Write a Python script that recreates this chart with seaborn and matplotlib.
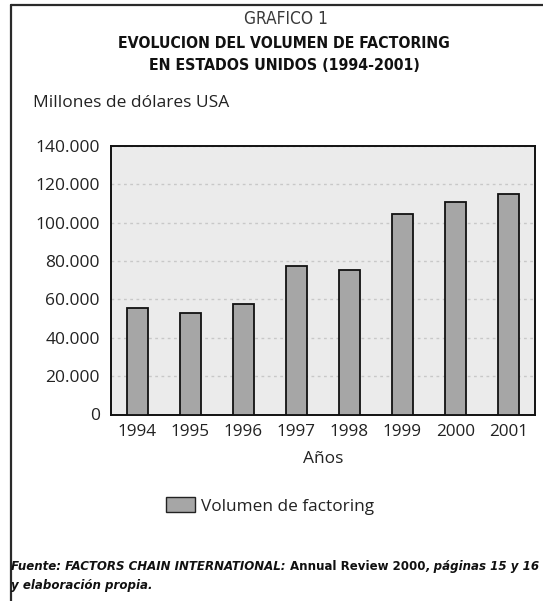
import matplotlib
matplotlib.use("Agg")
import matplotlib.pyplot as plt
from matplotlib.lines import Line2D
from matplotlib.patches import Patch
from matplotlib import font_manager
from matplotlib.font_manager import FontProperties
import seaborn as sns
import pandas as pd

# Factoring volume in the USA, millions of dollars
years = ["1994", "1995", "1996", "1997", "1998", "1999", "2000", "2001"]
volume = [55500, 53000, 57700, 77100, 75500, 104300, 110700, 114900]
y_ticks = [0, 20000, 40000, 60000, 80000, 100000, 120000, 140000]
y_tick_labels = ["0", "20.000", "40.000", "60.000", "80.000", "100.000", "120.000", "140.000"]
series_name = "Volumen de factoring"

df = pd.DataFrame({"Año": years, "Volumen": volume})

sns.set_style("white", {"axes.facecolor": "#ebebeb"})

available = {f.name for f in font_manager.fontManager.ttflist}
body = "Open Sans" if "Open Sans" in available else "DejaVu Sans"
plt.rcParams["font.family"] = [body, "DejaVu Sans"]


def narrow_font(bold=False, italic=False):
    """Pick a condensed face for the headings and the source note."""
    suffix = {(False, False): "Condensed.ttf", (True, False): "Condensed-Bold.ttf",
              (False, True): "Condensed-Oblique.ttf", (True, True): "Condensed-BoldOblique.ttf"}[(bold, italic)]
    for f in font_manager.fontManager.ttflist:
        if f.fname.endswith("DejaVuSans" + suffix):
            return FontProperties(fname=f.fname)
    return FontProperties(family="DejaVu Sans", weight="bold" if bold else "normal",
                          style="italic" if italic else "normal")


W, H = 543, 601
fig = plt.figure(figsize=(W / 100, H / 100), dpi=100)
renderer = fig.canvas.get_renderer()
ax = fig.add_axes([111 / W, 1 - 414.5 / H, (535 - 111) / W, (414.5 - 145.7) / H])

sns.barplot(data=df, x="Año", y="Volumen", color="#a6a6a6", edgecolor="#111111",
            linewidth=1.3, width=0.41, saturation=1, ax=ax, zorder=3)

ax.set_ylim(0, 140000)
ax.set_xlim(-0.5, len(years) - 0.5)
ax.set_yticks(y_ticks)
ax.set_yticklabels(y_tick_labels)
ax.yaxis.grid(True, linestyle=(0, (2, 2.5)), color="#c8c8c8", linewidth=1.0, zorder=0)
ax.set_axisbelow(True)

# tick marks at category boundaries, labels at category centres
ax.set_xticks([i - 0.5 for i in range(len(years) + 1)])
ax.set_xticklabels([])
ax.set_xticks(range(len(years)), minor=True)
ax.set_xticklabels(years, minor=True)
ax.tick_params(axis="x", which="major", direction="out", length=5, width=1.2, color="#111111")
ax.tick_params(axis="x", which="minor", length=0, pad=7, labelsize=12.3, labelcolor="#222222")
ax.tick_params(axis="y", direction="out", length=5, width=1.2, color="#111111",
               labelsize=12.5, labelcolor="#222222", pad=3)
for s in ax.spines.values():
    s.set_visible(True)
    s.set_color("#111111")
    s.set_linewidth(1.4)

ax.set_xlabel("Años", fontsize=12.5, color="#222222", labelpad=8)
ax.set_ylabel("")


def fitted_text(x_px, y_px, txt, width_px, fp, color="#111111"):
    t = fig.text(x_px / W, 1 - y_px / H, txt, ha="center", va="center", fontproperties=fp, color=color)
    t.set_fontsize(10)
    w = t.get_window_extent(renderer=renderer).width
    t.set_fontsize(10 * width_px / w)
    return t


# headings
fitted_text(286, 19, "GRAFICO 1", 84, narrow_font(), color="#3a3a3a")
fitted_text(284, 43, "EVOLUCION DEL VOLUMEN DE FACTORING", 330, narrow_font(bold=True))
fitted_text(284, 66, "EN ESTADOS UNIDOS (1994-2001)", 272, narrow_font(bold=True))
fig.text(33 / W, 1 - 103 / H, "Millones de dólares USA", ha="left", va="center",
         fontsize=12.5, color="#222222")

# legend
fig.legend(handles=[Patch(facecolor="#a6a6a6", edgecolor="#222222", linewidth=1.0, label=series_name)],
           loc="center", bbox_to_anchor=(270 / W, 1 - 506 / H), frameon=False,
           fontsize=12.4, handlelength=1.7, handleheight=0.9, handletextpad=0.3,
           labelcolor="#222222")


# source note, mixing italic and upright pieces on one baseline
def text_run(x_px, baseline_px, pieces, size):
    x = x_px / W
    for txt, italic in pieces:
        t = fig.text(x, 1 - baseline_px / H, txt, ha="left", va="baseline",
                     fontproperties=narrow_font(bold=True, italic=italic), color="#111111")
        t.set_fontsize(size)
        x = t.get_window_extent(renderer=renderer).x1 / W


line1 = [("Fuente: FACTORS CHAIN INTERNATIONAL: ", True),
         ("Annual Review 2000", False),
         (", páginas 15 y 16", True)]
widths = []
for txt, italic in line1:
    t = fig.text(0, 0, txt, fontproperties=narrow_font(bold=True, italic=italic))
    t.set_fontsize(10)
    widths.append(t.get_window_extent(renderer=renderer).width)
    t.remove()
note_size = 10 * (540 - 11) / sum(widths)
text_run(11, 570, line1, note_size)
text_run(11, 589, [("y elaboración propia.", True)], note_size)

# frame around the exhibit
fig.add_artist(Line2D([11 / W, 1], [1 - 5 / H, 1 - 5 / H], color="#2a2a2a", linewidth=1.6))
fig.add_artist(Line2D([11 / W, 11 / W], [0, 1 - 5 / H], color="#2a2a2a", linewidth=1.6))

fig.savefig("out.png", dpi=100)
